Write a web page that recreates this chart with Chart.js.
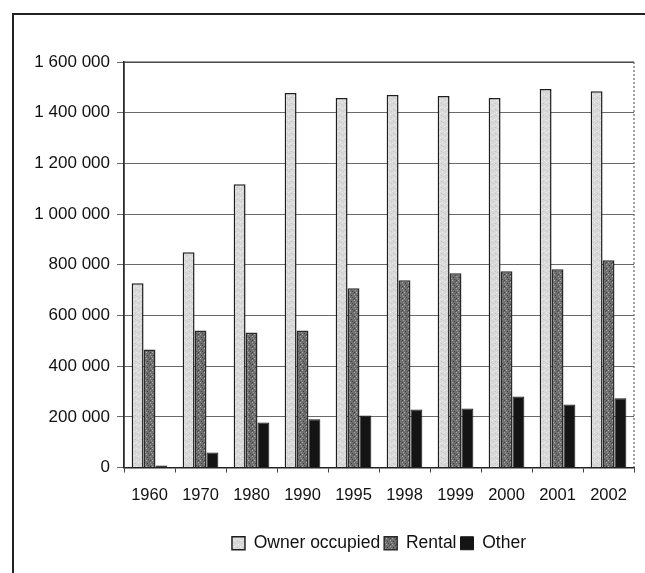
<!DOCTYPE html>
<html>
<head>
<meta charset="utf-8">
<script src="https://cdn.jsdelivr.net/npm/chart.js@4"></script>
<style>
  html, body { margin: 0; padding: 0; background: #fff; overflow: hidden; }
  .frame { position: absolute; left: 12px; top: 13px; width: 700px; height: 700px; border-left: 2px solid #222; border-top: 2px solid #222; pointer-events: none; }
  canvas { position: absolute; left: 0; top: 0; }
</style>
</head>
<body>
<canvas id="housingChart" width="645" height="573"></canvas>
<div class="frame"></div>
<script>
// Chart data
const years = ["1960", "1970", "1980", "1990", "1995", "1998", "1999", "2000", "2001", "2002"];
const ownerOccupied = [727000, 849000, 1118000, 1478000, 1458000, 1470000, 1466000, 1458000, 1493000, 1485000];
const rental = [466000, 541000, 533000, 541000, 707000, 739000, 766000, 774000, 782000, 818000];
const other = [8000, 59000, 178000, 190000, 205000, 229000, 233000, 280000, 249000, 273000];
const yTicks = [0, 200000, 400000, 600000, 800000, 1000000, 1200000, 1400000, 1600000];

// small fixed speckle textures to mimic the printed fills
function makePattern(base, dots) {
    const c = document.createElement("canvas");
    c.width = 6;
    c.height = 6;
    const g = c.getContext("2d");
    g.fillStyle = base;
    g.fillRect(0, 0, 6, 6);
    dots.forEach(function (d) {
        g.fillStyle = d[2];
        g.fillRect(d[0], d[1], 1, 1);
    });
    return g.createPattern(c, "repeat");
}

const ctx = document.getElementById("housingChart").getContext("2d");
const ownerFill = makePattern("#d9d9d9", [[0, 0, "#f2f2f2"], [3, 1, "#c2c2c2"], [1, 3, "#c8c8c8"], [4, 4, "#f0f0f0"], [5, 2, "#cbcbcb"], [2, 5, "#ebebeb"]]);
const rentalFill = makePattern("#6f6f6f", [[0, 0, "#a8a8a8"], [3, 1, "#3a3a3a"], [1, 2, "#9a9a9a"], [4, 3, "#444444"], [2, 4, "#b0b0b0"], [5, 5, "#505050"], [0, 4, "#3e3e3e"]]);

const fmt = function (v) {
    return String(v).replace(/\B(?=(\d{3})+(?!\d))/g, " ");
};

const plotFrame = {
    id: "plotFrame",
    afterLayout(chart) {
        // centre the legend under the plot area, not the whole canvas
        const lg = chart.legend;
        const a = chart.chartArea;
        const shift = (a.left + a.right) / 2 - (lg.left + lg.right) / 2;
        lg.left += shift;
        lg.right += shift;
    },
    afterDatasetsDraw(chart) {
        const a = chart.chartArea;
        const c = chart.ctx;
        c.save();
        c.strokeStyle = "#333";
        c.lineWidth = 1.2;
        c.beginPath();
        c.moveTo(a.left, a.bottom);
        c.lineTo(a.left, a.top);
        c.lineTo(a.right, a.top);
        c.stroke();
        c.setLineDash([2, 2]);
        c.strokeStyle = "#666";
        c.beginPath();
        c.moveTo(a.right, a.top);
        c.lineTo(a.right, a.bottom);
        c.stroke();
        c.restore();
    },
};

new Chart(ctx, {
    type: "bar",
    data: {
        labels: years,
        datasets: [
            {
                label: "Owner occupied",
                data: ownerOccupied,
                backgroundColor: ownerFill,
                borderColor: "#1e1e1e",
                borderWidth: 1.5,
            },
            {
                label: "Rental",
                data: rental,
                backgroundColor: rentalFill,
                borderColor: "#2a2a2a",
                borderWidth: 1.5,
            },
            {
                label: "Other",
                data: other,
                backgroundColor: "#141414",
                borderColor: "#141414",
                borderWidth: 1,
            },
        ],
    },
    options: {
        responsive: false,
        animation: false,
        layout: {
            padding: { left: 20, right: 11, top: 62, bottom: 11 },
        },
        datasets: {
            bar: { categoryPercentage: 0.7, barPercentage: 1.0 },
        },
        scales: {
            x: {
                grid: {
                    offset: true,
                    drawOnChartArea: false,
                    tickLength: 5,
                    color: "#444",
                },
                border: { color: "#222", width: 1.5 },
                ticks: {
                    color: "#111",
                    font: { family: "Liberation Sans, Arial", size: 16.5 },
                    padding: 13,
                    maxRotation: 0,
                },
                afterFit(scale) {
                    scale.height = 63;
                },
            },
            y: {
                min: 0,
                max: 1600000,
                afterBuildTicks(scale) {
                    scale.ticks = yTicks.map(function (v) { return { value: v }; });
                },
                grid: {
                    color: "#6a6a6a",
                    lineWidth: 1,
                    tickLength: 7,
                },
                border: { color: "#222", width: 1.5 },
                ticks: {
                    color: "#111",
                    font: { family: "Liberation Sans, Arial", size: 17 },
                    padding: 7,
                    callback: function (v) { return fmt(v); },
                },
                afterFit(scale) {
                    scale.width = 104;
                },
            },
        },
        plugins: {
            legend: {
                position: "bottom",
                labels: {
                    color: "#111",
                    font: { family: "Liberation Sans, Arial", size: 17.5 },
                    boxWidth: 13,
                    boxHeight: 13,
                    padding: 4,
                },
            },
            tooltip: { enabled: false },
        },
    },
    plugins: [plotFrame],
});
</script>
</body>
</html>
